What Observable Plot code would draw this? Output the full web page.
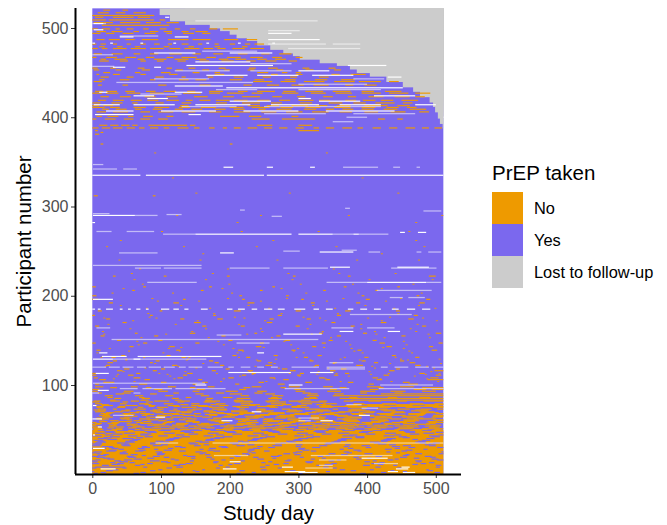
<!DOCTYPE html>
<html><head><meta charset="utf-8">
<script src="https://cdn.jsdelivr.net/npm/d3@7"></script>
<script src="https://cdn.jsdelivr.net/npm/@observablehq/plot@0.6"></script>
<style>
body{margin:0;background:#fff;font-family:"Liberation Sans",Arial,sans-serif;position:relative;width:667px;height:525px;overflow:hidden}
#legend{position:absolute;left:492px;top:161px;color:#000}
#legend .t{font-size:20.5px;line-height:24px;margin-bottom:7px;white-space:nowrap}
#legend .r{display:flex;align-items:center;height:32px;font-size:16.4px;white-space:nowrap}
#legend .s{width:31px;height:32px;margin-right:11px}
svg g[aria-label="rect"]{filter:blur(.55px)}
</style></head><body>
<div id="chart"></div><div id="legend"></div>
<script>
const statusLabels = ["No","Yes","Lost to follow-up"];
const statusColors = ["#ee9a00","#7b68ee","#cccccc"];
const xTicks = [0,100,200,300,400,500];
const yTicks = [100,200,300,400,500];
const lastDay = 511, lastRow = 522, solidNoTop = 48;
// row at which a band starts, and the day that band is lost to follow-up
const lostRows = [387,392,398,405,411,416,422,428,433,439,445,449,453,457,460,464,468,471,475,480,485,488,492,496,499,503,507,514];
const lostDays = [510,506,503,499,496,491,477,467,452,428,404,385,375,356,331,302,292,278,259,240,225,210,200,186,171,135,113,98];
// [row, start, end, start, end, ...]: days with no PrEP, on the purple area
const noRuns = [
[57,4,14,22,38,50,56,70,88,102,108,122,140,158,170,186,192,210,232,248,256,270,290,306,318,334,346,360,384,398,408,424,436,452,470,486,500],
[73,8,20,30,36,60,78,96,104,118,124,146,160,174,196,214,222,240,252,276,288,310,332,350,358,376,392,414,430,444,462,478,494,502,511],
[50,2,16,28,44,62,70,84,100,128,142,156,164,180,204,228,244,262,276,296,312,322,342,368,380,402,420,440,448,466,488,498,508],
[66,10,26,40,52,72,80,94,116,132,150,170,182,200,212,236,258,272,294,318,330,352,372,392,410,428,456,472,482,496,511],
[53,0,12,34,46,58,76,90,98,112,134,148,172,192,206,220,242,266,280,300,326,340,362,384,396,416,438,458,476,490,506],
[62,6,24,42,54,68,84,106,118,138,152,176,188,208,230,250,264,284,304,316,338,356,376,404,418,434,450,468,500,511],
[77,14,30,48,66,82,92,110,126,144,168,184,198,216,238,254,278,298,312,334,348,368,386,400,424,442,466,484,504],
[49,0,8,20,36,52,60,76,96,114,130,160,172,194,218,234,246,268,292,308,324,344,364,382,408,422,446,462,480,494,511],
[70,4,18,32,44,64,78,88,104,122,146,162,180,202,226,240,260,282,302,320,336,358,378,398,412,436,454,476,498,510],
[59,10,22,38,58,74,86,108,120,136,156,178,190,212,224,248,272,288,310,326,354,370,390,406,426,448,470,488,502],
[82,2,12,26,40,56,68,90,112,128,142,164,186,206,232,252,266,286,306,330,342,366,380,402,420,444,458,482,511],
[55,0,6,24,34,50,62,80,98,116,134,154,176,196,220,244,262,276,298,322,346,362,388,410,430,452,474,492,508],
[68,12,28,44,56,70,84,102,126,148,158,182,204,214,236,256,280,294,314,338,352,376,394,414,440,460,486,500,511],
[75,6,16,36,48,66,74,94,110,130,152,170,192,210,228,258,270,290,316,332,350,372,400,418,434,456,478,496,511],
[52,0,10,22,32,52,64,86,100,124,140,166,178,200,222,242,268,300,312,328,344,360,384,406,428,446,468,490,504],
[64,18,30,46,58,78,92,114,132,160,174,188,208,234,250,274,296,318,340,370,392,412,436,450,472,494,510],
[79,4,14,40,50,68,82,104,118,144,156,180,194,216,230,260,282,304,320,336,356,380,396,422,442,462,482,498,511],
[60,26,38,60,72,96,108,136,150,172,198,218,240,254,278,292,310,334,352,366,388,416,432,454,476,500,511],
[71,8,20,42,54,84,94,112,128,162,176,202,226,246,264,286,306,328,348,374,404,424,440,464,488,506],
[56,0,12,30,36,56,66,88,106,122,138,152,186,210,238,256,276,300,324,342,362,382,408,426,448,470,492,511],
[67,16,24,46,62,76,90,116,134,164,182,196,220,244,270,288,316,330,358,378,398,418,438,460,484,502],
[51,2,14,34,44,72,86,100,120,142,158,190,206,232,252,268,294,314,338,354,372,396,414,444,466,480,511],
[61,10,18,50,58,80,96,126,136,168,178,212,228,248,262,284,302,322,344,364,386,406,430,452,474,496,511],
[58,0,6,28,40,64,74,104,116,146,156,184,200,224,242,274,296,312,332,350,370,392,420,436,458,490,511],
[69,20,32,54,68,92,102,130,144,170,192,214,236,258,280,310,326,346,368,388,410,434,456,478,504],
[76,6,16,38,48,82,90,118,128,154,174,204,216,240,266,290,304,330,511],
[54,24,36,60,70,98,112,140,152,186,198,226,250,272,286,320,340,360,382,400,418,440,462,484,500],
[81,0,10,44,52,78,88,124,134,162,180,208,234,254,282,300,340,511],
[65,14,26,58,66,94,108,148,160,192,202,222,246,268,294,318,334,356,378,404,428,452,476,496,511],
[85,32,42,72,84,116,126,166,176,210,230,256,276,308,328,360,511],
[72,2,12,48,56,88,100,138,150,182,196,238,252,284,298,324,344,372,398,420,442,470,490,511],
[88,18,30,62,74,106,118,158,170,216,228,262,278,312,330,350,511],
[63,6,20,40,54,92,104,132,144,176,188,224,242,266,282,320,338,366,392,410,436,458,482,504],
[83,26,34,70,82,120,130,164,174,206,220,258,272,304,318,376,511],
[93,0,8,46,60,96,110,146,156,194,212,240,254,296,310,342,362,390,412,434,456,480,500],
[78,12,24,76,86,128,140,172,184,228,244,276,290,326,340,380,511],
[90,34,46,84,94,150,162,200,218,252,266,314,328,352,366,420,511],
[98,4,16,56,66,110,122,168,178,232,246,286,302,336,350,400,420,448,468],
[86,22,30,68,76,136,144,190,204,260,270,316,326,374,386,430,444,476,492],
[95,0,10,90,102,152,164,214,224,294,304,346,356,404,416,468,486,494,511],
[91,8,14,44,56,118,126,180,192,236,248,306,318,390,400,440,452],
[97,26,36,78,86,142,150,220,230,274,282,360,370,416,424,480,511],
[108,2,8,60,70,124,132,198,206,258,266,330,338,408,416,492,504],
[103,16,32,100,108,160,168,242,250,310,320,372,380,452,462],
[116,36,44,88,94,174,180,226,234,288,296,346,354,432,440,498,511],
[101,4,10,68,80,146,152,208,214,270,280,402,410,460,474],
[122,20,26,116,124,186,192,252,262,324,330,384,394,470,478],
[111,0,6,52,60,132,138,218,224,298,304,352,358,424,432,500,508],
[127,30,36,92,98,170,176,240,246,316,322,392,398,448,454],
[106,10,20,76,84,154,160,278,286,340,346,414,422,488,511],
[133,42,48,108,114,204,210,264,270,328,334,436,442],
[113,0,6,64,70,138,146,232,238,302,308,368,374,476,484],
[125,22,30,84,88,178,184,256,262,350,356,410,416,462,470],
[139,6,12,122,128,212,220,290,296,386,392,494,502],
[118,46,54,100,106,194,200,276,284,362,370,442,448],
[147,0,5,74,80,150,156,244,250,334,340,418,426,504,510],
[131,28,34,130,136,224,230,308,314,396,402,470,476],
[155,12,18,90,96,188,194,268,274,356,362,450,456],
[143,54,60,112,120,238,246,320,326,428,436,490,496],
[166,4,10,160,166,216,222,296,302,376,382,480,486],
[150,36,42,96,102,198,204,280,288,344,350,408,414],
[174,20,26,128,134,182,190,258,264,312,318,460,468],
[158,62,66,142,150,236,240,330,336,394,400,500,508],
[183,8,14,98,102,206,216,296,304,368,376,442,448],
[170,44,50,148,158,254,262,348,354,420,428],
[192,24,30,118,126,226,236,318,324,384,390,476,484],
[178,0,4,84,88,176,180,270,276,356,362,468,474],
[206,58,62,158,162,244,248,336,340,412,416],
[196,0,8,132,136,218,222,304,308,398,404,486,492],
[222,30,34,104,108,196,200,292,296,372,376,490,500],
[210,0,5,74,78,170,174,262,266,366,370,444,448],
[200,0,6,214,218,282,286,392,396,472,476],
[388,0,9,14,26,30,44,50,62,68,76,84,96,104,112,124,140,148,156,170,178,190,196,206,216,226,240,250,262,272,284,296,308,322,330,340,352,364,378,386,394,408,420,432,444,456,470,480,490,498,509],
[391,10,22,26,38,42,54,58,66,82,138,142,150,240,262,300,320],
[398,0,6,18,34,46,60,70,84,96,110,232,258,276,324,416,426,444,452],
[401,6,14,22,38,52,60,74,88,108,118,186,214,228,246,290,300],
[419,8,20,30,46,56,72,80,96,108,126,136,146,156,172,180,200,206,226,240,258,272,288,300,322,330,346,368,384,394,412,420,438,450,474],
[409,14,24,34,50,62,72,88,102,120,132,144,160,178,194,206,222,242,252,268,290,308,326,340,352,364,380,392,410,424,444,462,486],
[427,0,14,20,38,50,70,84,104,132,158,170,186,196,220,232,248,276,300,318,340,354,378,392,420,432,460,470,492],
[406,6,20,30,52,70,84,96,118,130,150,170,188,206,230,246,268,282,306,320,344,360,378,396,416,434,456,476,490],
[423,12,24,40,56,76,92,108,124,148,168,190,206,218,244,262,276,298,310,336,350,372,384,402,424,440,462,470,484],
[411,0,18,26,40,60,78,90,112,126,142,158,180,200,220,232,258,274,292,310,332,352,376,392,412,428,446,458,472],
[416,0,12,28,44,58,66,92,104,130,144,180,196,218,244,260,276,302,320,344,364,380,398,412,440,452,466],
[429,4,16,20,36,48,62,78,92,104,122,138,150,170,190,212,226,240,266,278,296,310,336,350,376,392,410,426,450],
[413,0,10,16,30,128,140,226,244,254,272,290,314,326,342,356,376,396,430,444,462],
[436,8,14,44,52,96,108,156,172,220,232,254,272,290,308,322,344,368,380,396,414],
[440,2,14,234,262,274,296,308,338,352,382,388,420,432,446],
[448,6,10,30,40,70,78,112,124,178,192,260,270,296,306,348,360,376,398],
[442,10,18,40,54,84,92,126,140,150,166,200,218,236,250,280,296,324,342,362,382],
[455,0,8,26,34,66,76,108,116,140,150,184,194,228,238,256,270,306,316,344,354],
[445,12,24,50,60,92,104,130,136,168,176,206,220,248,260,288,298,330,344],
[453,2,10,34,42,72,84,122,132,160,170,192,200,226,236,268,278,310,322,352,362],
[450,16,26,62,70,100,114,146,156,178,186,240,256,276,284,296,304],
[467,0,6,20,36,48,64,78,90,108,118,130,152,166,180,196,216,230,248,262,276,296,306],
[463,10,24,40,52,70,78,94,104,124,136,156,170,188,206,224,238,252,268,286,298],
[471,2,14,28,44,60,70,84,96,112,130,146,158,176,190,212,226,246,258,272,290],
[465,12,20,32,50,66,76,90,108,120,140,150,166,184,198,208,224,240,254,266,282],
[477,0,8,14,22,30,50,56,78,84,104,112,128,134,156,162,176,182,194,204,222,230,250],
[487,6,18,24,40,48,62,72,96,110,140,146,172,192,212,224,240],
[482,0,6,12,20,30,36,50,56,70,78,90,98,110,116,130,140,154,160,178,184,200,208,222,230,236,250],
[479,10,18,36,44,62,70,104,112,140,148,178,186,218,226],
[499,0,8,14,26,34,40,50,60,74,82,98,108,120,128,142,150,170,182,190,212],
[494,0,12,20,32,44,60,76,92,108,116,132,148,160,172],
[496,6,20,28,44,60,68,84,96,104,116,130,140,150,168],
[503,14,112],
[506,2,30,40,70,78,100,108,126],
[509,0,20,24,90,98,106],
[512,4,16,30,60,66,84],
[514,0,90],
[517,8,24,34,48,60,78],
[520,16,26,44,52],
[312,2,8,88,92],[370,12,16,200,204],[385,4,8,300,330],[383,12,16],[381,4,10]
];
// [row, day, day, ...]: single missed doses scattered through the purple area
const noSpecks = [
[131,12,74,140,212,296,366,440],[107,30,118,190,264,338,418,486],[163,54,164,244,312,390,462],[113,8,96,180,286,354,430,504],[189,40,128,226,320,396,474],
[119,76,150,270,342,410,496],[141,24,110,204,298,376,452],[104,60,186,252,360,434,502],[175,16,92,220,330,400,480],[128,48,136,238,316,388,458],
[153,70,168,260,346,424,490],[110,34,112,214,300,372,468],[197,86,196,282,364,448],[121,18,124,236,322,406,486],[172,58,152,250,338,420,500],
[136,6,102,210,306,392,464],[180,80,176,274,356,444],[115,44,134,228,328,402,492],[145,66,190,288,374,456],[203,28,116,202,310,386,478],
[124,90,160,264,350,432,506],[160,14,144,246,334,410,470],[138,52,126,218,292,380,460],[186,78,170,256,352,438,498],[112,36,108,232,326,404,484],
[149,64,182,278,368,452],[168,22,120,212,316,390,472],[194,94,154,244,340,426],[129,48,138,266,360,448,504],[213,72,198,302,378,466],
[157,16,106,224,318,412,488],[225,56,174,284,358,440],[142,128,248,336,422],[240,38,156,268,384,474],[176,82,206,306,432],[255,20,132,238,354,482],
[218,60,164,290,402,494],[272,100,216,328,460],[208,44,188,274,420],[290,122,244,372,508],[230,68,196,350],[315,150,286,444],[262,40,262,470],[332,116,392],[282,210,470],[360,90,340],[247,160,420]
];
// [row, start, end, ...]: days with PrEP inside the solid orange area at the bottom
const yesRuns = [
[3,0,3,150,156,340,346,452,458],
[1,2,8,60,68,210,216,300,306,390,398],
[5,30,38,96,102,160,164,246,254,360,368,404,410,486,490],
[2,12,20,70,78,128,132,232,238,320,326,420,428,498,506],
[7,0,6,44,50,108,116,180,186,270,276,350,356,444,450],
[4,20,30,84,92,146,150,214,222,288,296,376,384,434,440,488,496],
[14,0,8,38,52,100,110,176,184,256,262,310,322,396,404,472,478],
[8,4,48,74,80,122,132,194,200,244,252,336,344,412,420,500,506],
[22,16,24,56,66,94,104,164,172,224,230,294,304,362,372,456,462],
[12,0,10,36,46,80,88,136,146,206,216,278,286,348,356,406,418,478,486],
[17,22,32,60,72,114,120,172,178,240,250,318,324,384,392,440,446,494,504],
[25,2,14,44,50,92,102,150,160,226,232,296,306,366,374,428,434,508,511],
[11,28,40,70,76,126,136,198,204,264,272,338,350,416,424,466,474],
[19,6,18,52,64,104,112,166,174,234,242,302,308,380,388,448,458,492,500],
[15,0,4,32,42,84,98,142,148,216,222,280,288,344,352,408,414,470,480],
[10,14,24,62,70,118,128,184,190,252,258,326,332,394,404,438,444,500,508],
[28,38,46,90,96,156,162,228,236,300,308,360,366,426,436,482,488],
[21,8,20,72,78,132,138,206,212,270,276,340,346,386,392,452,460],
[13,26,34,54,62,108,114,176,182,246,252,312,320,418,426,490,498],
[24,0,6,40,48,96,102,160,166,232,238,292,298,370,378,442,448],
[18,16,26,80,90,144,150,200,206,262,268,334,340,400,406,468,476],
[16,4,12,46,58,120,126,188,194,284,290,356,362,430,438,502,511],
[27,24,36,68,78,104,116,168,176,226,236,306,316,380,390,456,466],
[20,0,10,50,60,88,98,138,150,208,216,260,272,328,336,412,422,484,494],
[31,14,30,72,80,120,130,184,196,240,248,296,304,366,374,436,448],
[23,6,12,40,52,94,106,156,162,218,228,278,288,344,354,396,408,470,480,504,511],
[26,20,34,62,74,126,136,176,186,250,258,318,326,386,392,450,458],
[34,0,14,46,54,84,92,142,154,204,212,266,276,338,348,416,428,490,500],
[29,0,20,28,38,66,76,110,118,170,180,234,244,300,310,372,380,440,448],
[37,8,18,48,60,92,104,150,160,212,220,282,292,352,362,420,430,474,486],
[30,24,32,72,84,128,136,188,198,256,266,320,332,398,406,460,470,502,511],
[33,2,12,42,54,100,110,162,170,226,236,296,306,368,376,432,442,484,492],
[41,16,28,64,74,118,130,178,192,244,254,312,322,384,396,452,462],
[35,4,14,36,50,84,96,140,150,200,214,274,282,340,352,410,420,476,486,496,506],
[39,22,36,58,70,108,120,166,176,232,242,294,304,358,370,424,436,466,474],
[32,0,12,44,56,88,102,148,158,210,222,262,276,330,342,392,404,452,464,490,500],
[44,18,30,70,82,122,134,180,192,246,256,310,322,374,386,440,450,504,511],
[36,6,20,48,62,98,112,156,170,218,228,284,296,348,360,404,418,470,484],
[42,26,40,76,88,130,142,190,204,252,266,320,332,382,396,446,458,494,506],
[38,2,16,54,66,106,118,164,178,226,240,292,306,356,370,420,434,480,492],
[47,20,34,80,94,134,148,196,210,262,274,326,340,388,402,456,470,500,511],
[40,8,22,44,60,112,126,172,186,234,248,300,314,362,378,428,442,486,498],
[45,28,44,70,86,140,154,204,218,270,284,334,348,398,412,462,476],
[43,0,14,52,66,96,110,162,176,226,242,294,308,364,380,424,440,490,504],
[48,18,32,76,92,128,144,192,208,256,272,322,338,392,408,454,470],
[46,4,20,46,62,104,120,168,184,234,250,298,314,358,374,426,442,482,498]
];
// [row, start, end, ...]: days without a record, bright white
const gapRuns = [
[8,276,292,450,462],[6,12,34,190,210,442,460],[3,280,310,430,445],[2,300,328,452,470],[14,200,216],[18,392,430],
[29,1,18],[44,1,4],[53,8,14],[62,0,14],[77,1,6],[70,232,246],[66,388,404],[64,92,106],[60,188,204,332,350],
[94,8,24],[100,150,166,286,306],[113,5,24],[132,14,50,66,188],[129,1,30,60,70],[114,198,289,317,351],[157,278,334],[160,360,380,430,448],
[136,10,22,240,250],[335,0,70,78,250,254,511],[290,1,62],[269,150,290,300,350,380,388],[248,186,206],[249,331,380],[232,346,375,444,490],[215,400,486],[271,448,455,474,486],[282,0,4],
[196,1,30],[185,0,4,8,12,20,30,40,44,52,56,64,70,78,82,100,112,118,126,134,140,158,168,196,204,212,222,232,240,250,262,270,280,294,310,322,330,340,350,372,380,390,400,410,420,436,446,458,470,480,492],
[344,191,205,254,263,317,324],[458,137,263,372,428],[447,166,226,240,300,320,380],[433,195,452],[414,2,40,60,120,150,230,260,330,360,420,470,500],[407,20,60,100,180,220,300,340,440],[487,256,331],[494,256,290],[498,2,16],[490,40,60,120,140],[428,10,22,120,160],[483,0,4,26,30,70,74,118,122,166,170,212,216,262,266],
[456,30,48,90,100],[403,4,60,140,158],[445,430,450],[421,80,110,300,318],[418,200,260,330,390],[424,60,90,410,470],[435,120,190],[452,300,345],[462,150,230],[472,90,150,200,262],[505,2,16],[512,106,112]
];
// same record, paler because the original row blends into the neighbouring ones
const paleRuns = [
[35,92,125,175,511],[21,177,227,318,437],[7,310,350],[12,410,445],[10,330,350],[16,330,370],[60,300,318],[66,30,60],[74,392,416],[63,300,330],[78,370,392],
[91,0,10,60,70],[96,40,66,73,116,121,194,280,374,417,528],[100,419,496],[102,1,164],[120,0,20,24,40,44,60,65,78,82,100,104,120,126,136,140,160,168,190,198,206,216,230,240,250,260,270,290,330,341,397,420,430,440,460,470,490,494,511],[118,341,397],[151,28,329],[147,210,258],[156,181,217],[129,30,166],[125,345,380],[164,6,26,348,380,400,440],[179,375,465],
[198,433,452,460,484],[206,414,494],[215,80,152,341,400,486,508],[231,62,100,104,159,200,258,278,343,435,501],[234,1,159],[248,39,95],[250,278,302],[251,363,385],[249,402,419,472,479,489,508],[269,103,150,350,380,388,431],[272,6,28,50,90],[290,62,95],[291,108,130],[292,1,25],[296,215,222],[289,261,276],[298,368,375],[295,482,508],
[342,1,36,45,65],[347,1,16],[344,365,416,438,448,472,477],
[508,150,328],[482,256,340,350,390],[477,285,390],[497,256,302],[452,120,200,230,290],[439,35,234],[400,370,400,580,650],[404,250,340,380,470],[412,130,210,250,420],[395,350,380],[431,180,240,300,420],[426,70,130],[505,0,20],[491,40,96],[470,0,30],[457,0,32],[443,90,170,380,425],[437,300,400],[460,230,290],[474,160,240]
];

const cells = [];
const add = (label, y1, y2, x1, x2) => cells.push({label, y1, y2, x1, x2});
add("Yes", .5, lastRow, 0, lastDay);
lostRows.forEach((r, i) => add("Lost to follow-up", r + .5, lastRow, lostDays[i], lastDay));
add("No", .5, solidNoTop + .5, 0, lastDay);
const runs = (list, label, half) => list.forEach(([row, ...d]) => { for (let i = 0; i + 1 < d.length; i += 2) add(label, row - half, row + half, d[i], d[i + 1]); });
runs(noRuns, "No", .65);
noSpecks.forEach(([row, ...d]) => d.forEach(day => add("No", row - .5, row + .5, day, day + 3)));
runs(yesRuns, "Yes", .65);
const gaps = [];
const addGap = (list, opacity, half) => list.forEach(([row, ...d]) => { for (let i = 0; i + 1 < d.length; i += 2) gaps.push({y1: row - half, y2: row + half, x1: d[i], x2: Math.min(d[i + 1], lastDay), opacity}); });
addGap(paleRuns, .55, .7);
addGap(gapRuns, 1, .65);

const xMin = -25.2, yMin = .3;
const plot = Plot.plot({
  width: 667, height: 525, marginLeft: 75, marginRight: 206, marginTop: 8, marginBottom: 51,
  style: {fontFamily: '"Liberation Sans",Arial,sans-serif', background: "#fff"},
  x: {domain: [xMin, 536.7], label: null},
  y: {domain: [yMin, 522.4], label: null},
  color: {domain: statusLabels, range: statusColors},
  marks: [
    Plot.rect(cells, {x1: "x1", x2: "x2", y1: "y1", y2: "y2", fill: "label"}),
    Plot.rect(gaps, {x1: "x1", x2: "x2", y1: "y1", y2: "y2", fill: "#fff", fillOpacity: "opacity"}),
    Plot.axisX({ticks: xTicks, tickSize: 4, tickPadding: 4, fontSize: 16, color: "#4d4d4d", stroke: "#333", label: null}),
    Plot.axisX({ticks: [], label: "Study day", labelAnchor: "center", labelArrow: "none", labelOffset: 45, fontSize: 20.5, fill: "#000"}),
    Plot.axisY({ticks: yTicks, tickSize: 4, tickPadding: 3, fontSize: 16, color: "#4d4d4d", stroke: "#333", label: null}),
    Plot.axisY({ticks: [], label: "Participant number", labelAnchor: "center", labelArrow: "none", labelOffset: 59, fontSize: 20.5, fill: "#000"}),
    Plot.ruleX([xMin], {stroke: "#000", strokeWidth: 2}),
    Plot.ruleY([yMin], {stroke: "#000", strokeWidth: 2})
  ]
});
document.getElementById("chart").appendChild(plot);
const lg = document.getElementById("legend");
lg.innerHTML = '<div class="t">PrEP taken</div>' + statusLabels.map((l, i) =>
  `<div class="r"><span class="s" style="background:${statusColors[i]}"></span>${l}</div>`).join("");
</script></body></html>
